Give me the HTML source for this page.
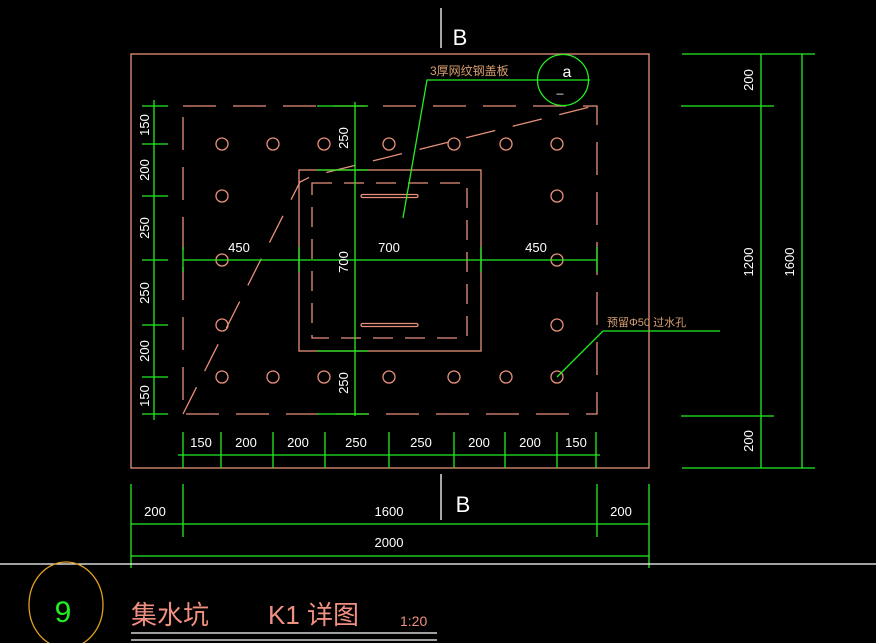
<!DOCTYPE html>
<html><head><meta charset="utf-8"><style>
html,body{margin:0;padding:0;background:#000;}
svg{display:block}
text{font-family:"Liberation Sans","Noto Sans CJK SC",sans-serif;}
</style></head><body>
<svg width="876" height="643" viewBox="0 0 876 643" xmlns="http://www.w3.org/2000/svg">
<rect width="876" height="643" fill="#000"/>
<g fill="none" stroke="#e8907a" stroke-width="1.3">
<rect x="131" y="54" width="518" height="414"/>
<rect x="183" y="106" width="414" height="308" stroke-dasharray="33 17"/>
<rect x="299" y="170" width="182" height="181"/>
<rect x="312" y="183" width="155" height="155" stroke-dasharray="20 12"/>
<polyline points="183,414 300,182 312,176 590,107" stroke-dasharray="30 18"/>
<g>
<circle cx="222" cy="144" r="6"/><circle cx="273" cy="144" r="6"/><circle cx="324" cy="144" r="6"/><circle cx="389" cy="144" r="6"/><circle cx="454" cy="144" r="6"/><circle cx="506" cy="144" r="6"/><circle cx="557" cy="144" r="6"/>
<circle cx="222" cy="196" r="6"/><circle cx="557" cy="196" r="6"/>
<circle cx="222" cy="260" r="6"/><circle cx="557" cy="260" r="6"/>
<circle cx="222" cy="325" r="6"/><circle cx="557" cy="325" r="6"/>
<circle cx="222" cy="377" r="6"/><circle cx="273" cy="377" r="6"/><circle cx="324" cy="377" r="6"/><circle cx="389" cy="377" r="6"/><circle cx="454" cy="377" r="6"/><circle cx="506" cy="377" r="6"/><circle cx="557" cy="377" r="6"/>
</g>
<rect x="361" y="194.5" width="57" height="3" rx="1.5"/>
<rect x="361" y="323.5" width="57" height="3" rx="1.5"/>
</g>
<g fill="none" stroke="#22ee22" stroke-width="1.3">
<!-- left dim -->
<line x1="154" y1="100" x2="154" y2="420"/>
<line x1="142" y1="106" x2="168" y2="106"/><line x1="142" y1="144" x2="168" y2="144"/><line x1="142" y1="196" x2="168" y2="196"/><line x1="142" y1="260" x2="168" y2="260"/><line x1="142" y1="325" x2="168" y2="325"/><line x1="142" y1="377" x2="168" y2="377"/><line x1="142" y1="414" x2="168" y2="414"/>
<!-- center vertical -->
<line x1="355" y1="102" x2="355" y2="416"/>
<line x1="317" y1="106" x2="368" y2="106"/><line x1="317" y1="170" x2="368" y2="170"/><line x1="317" y1="351" x2="368" y2="351"/><line x1="317" y1="414" x2="368" y2="414"/>
<!-- horizontal middle -->
<line x1="183" y1="260" x2="597" y2="260"/>
<line x1="183" y1="247" x2="183" y2="272"/><line x1="299" y1="247" x2="299" y2="272"/><line x1="481" y1="247" x2="481" y2="272"/><line x1="597" y1="247" x2="597" y2="272"/>
<!-- bottom dim -->
<line x1="178" y1="455" x2="600" y2="455"/>
<g>
<line x1="183" y1="432" x2="183" y2="468"/><line x1="221" y1="432" x2="221" y2="468"/><line x1="273" y1="432" x2="273" y2="468"/><line x1="325" y1="432" x2="325" y2="468"/><line x1="389" y1="432" x2="389" y2="468"/><line x1="454" y1="432" x2="454" y2="468"/><line x1="505" y1="432" x2="505" y2="468"/><line x1="557" y1="432" x2="557" y2="468"/><line x1="596" y1="432" x2="596" y2="468"/>
</g>
<!-- lower overall dims -->
<line x1="131" y1="524" x2="649" y2="524"/>
<line x1="131" y1="556" x2="649" y2="556"/>
<line x1="131" y1="484" x2="131" y2="568"/><line x1="649" y1="484" x2="649" y2="568"/>
<line x1="183" y1="484" x2="183" y2="537"/><line x1="597" y1="484" x2="597" y2="537"/>
<!-- right dims -->
<line x1="761" y1="54" x2="761" y2="468"/><line x1="802" y1="54" x2="802" y2="468"/>
<line x1="682" y1="54" x2="815" y2="54"/><line x1="681" y1="106" x2="774" y2="106"/><line x1="681" y1="416" x2="774" y2="416"/><line x1="682" y1="468" x2="815" y2="468"/>
<!-- leaders -->
<polyline points="403,218 427,80 590,80"/>
<circle cx="563" cy="80" r="25.5"/>
<polyline points="557,377 603,331 720,331"/>
</g>
<g fill="none" stroke="#fff" stroke-width="1.3">
<line x1="441" y1="8" x2="441" y2="48"/>
<line x1="441" y1="474" x2="441" y2="520"/>
<line x1="0" y1="564" x2="876" y2="564"/>
<line x1="131" y1="633" x2="437" y2="633"/>
<line x1="131" y1="640" x2="437" y2="640"/>
</g>
<ellipse cx="66" cy="605" rx="37" ry="43" fill="none" stroke="#e0a020" stroke-width="1.3"/>
<g fill="#fff" font-size="13">
<text x="460" y="45" font-size="22" text-anchor="middle">B</text>
<text x="463" y="512" font-size="22" text-anchor="middle">B</text>
<text x="239" y="252" text-anchor="middle">450</text>
<text x="389" y="252" text-anchor="middle">700</text>
<text x="536" y="252" text-anchor="middle">450</text>
<text x="201" y="447" text-anchor="middle">150</text>
<text x="246" y="447" text-anchor="middle">200</text>
<text x="298" y="447" text-anchor="middle">200</text>
<text x="356" y="447" text-anchor="middle">250</text>
<text x="421" y="447" text-anchor="middle">250</text>
<text x="479" y="447" text-anchor="middle">200</text>
<text x="530" y="447" text-anchor="middle">200</text>
<text x="576" y="447" text-anchor="middle">150</text>
<text x="155" y="516" text-anchor="middle">200</text>
<text x="389" y="516" text-anchor="middle">1600</text>
<text x="621" y="516" text-anchor="middle">200</text>
<text x="389" y="547" text-anchor="middle">2000</text>
<g transform="translate(149,125) rotate(-90)"><text text-anchor="middle">150</text></g>
<g transform="translate(149,170) rotate(-90)"><text text-anchor="middle">200</text></g>
<g transform="translate(149,228) rotate(-90)"><text text-anchor="middle">250</text></g>
<g transform="translate(149,293) rotate(-90)"><text text-anchor="middle">250</text></g>
<g transform="translate(149,351) rotate(-90)"><text text-anchor="middle">200</text></g>
<g transform="translate(149,396) rotate(-90)"><text text-anchor="middle">150</text></g>
<g transform="translate(348,138) rotate(-90)"><text text-anchor="middle">250</text></g>
<g transform="translate(348,262) rotate(-90)"><text text-anchor="middle">700</text></g>
<g transform="translate(348,383) rotate(-90)"><text text-anchor="middle">250</text></g>
<g transform="translate(753,80) rotate(-90)"><text text-anchor="middle">200</text></g>
<g transform="translate(753,262) rotate(-90)"><text text-anchor="middle">1200</text></g>
<g transform="translate(794,262) rotate(-90)"><text text-anchor="middle">1600</text></g>
<g transform="translate(753,441) rotate(-90)"><text text-anchor="middle">200</text></g>
<text x="567" y="77" font-size="16" text-anchor="middle">a</text>
<text x="560" y="92" font-size="12" text-anchor="middle">_</text>
</g>
<text x="430" y="75" font-size="12" fill="#d8a070">3厚网纹钢盖板</text>
<text x="607" y="326" font-size="11" fill="#d8a070">预留Φ50 过水孔</text>
<text x="63" y="622" font-size="30" fill="#22ee22" text-anchor="middle">9</text>
<text x="131" y="624" font-size="26" fill="#f09080">集水坑</text>
<text x="268" y="624" font-size="26" fill="#f09080">K1 详图</text>
<text x="400" y="626" font-size="14" fill="#f09080">1:20</text>
</svg>
</body></html>
